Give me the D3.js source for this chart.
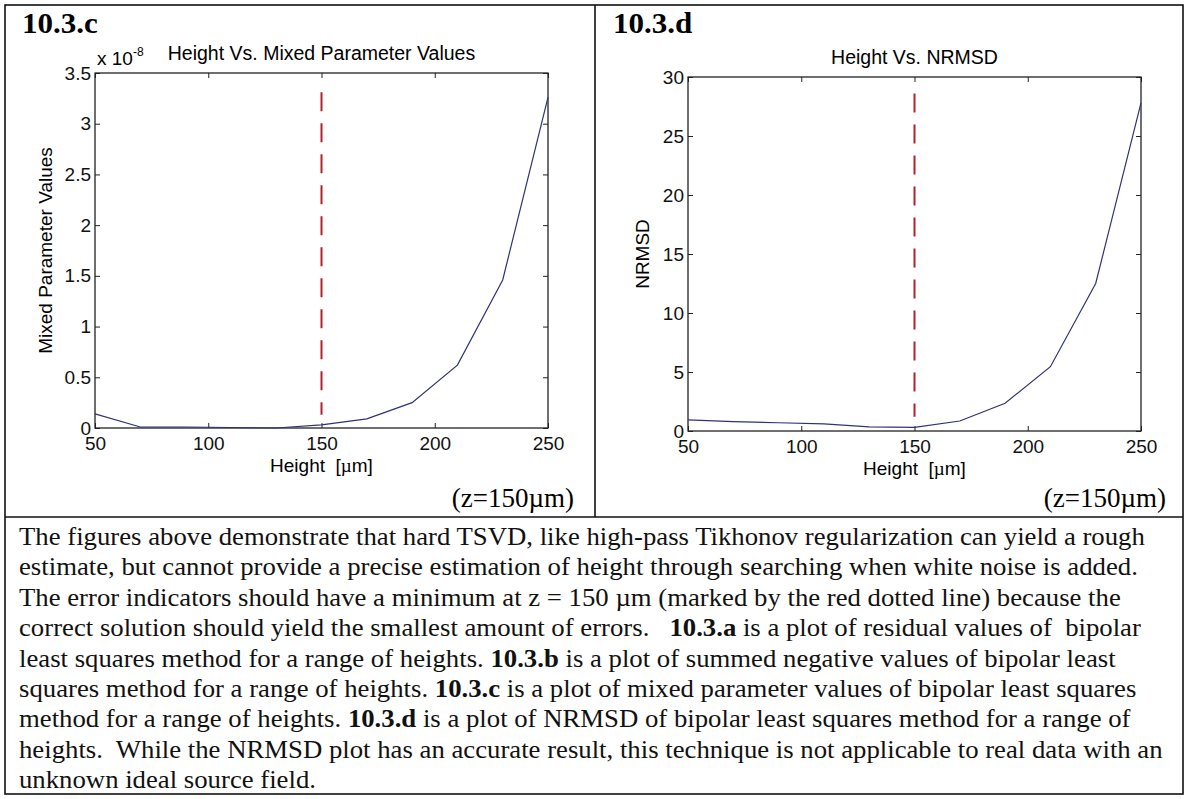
<!DOCTYPE html>
<html>
<head>
<meta charset="utf-8">
<script src="https://cdn.jsdelivr.net/npm/d3@7/dist/d3.min.js"></script>
<style>
  html, body { margin: 0; padding: 0; background: #fff; }
  svg { display: block; }
</style>
</head>
<body>
<svg id="fig" width="1186" height="799"></svg>
<script>
// ---------------- data ----------------
const heights = [50, 70, 90, 110, 130, 150, 170, 190, 210, 230, 250];
// Mixed parameter values (x 10^-8)
const mixedValues = [0.14, 0.01, 0.01, 0.005, 0.0, 0.03, 0.09, 0.25, 0.62, 1.46, 3.26];
// NRMSD values
const nrmsdValues = [0.95, 0.8, 0.7, 0.6, 0.35, 0.3, 0.85, 2.35, 5.45, 12.5, 27.8];
const xTicks = [50, 100, 150, 200, 250];
const mixedTicks = [0, 0.5, 1, 1.5, 2, 2.5, 3, 3.5];
const nrmsdTicks = [0, 5, 10, 15, 20, 25, 30];
const markerHeight = [150];
const mixedMarkerRange = [0.13, 3.31];
const nrmsdMarkerRange = [1.2, 28.6];

const paragraphLines = [
  [["The figures above demonstrate that hard TSVD, like high-pass Tikhonov regularization can yield a rough", false]],
  [["estimate, but cannot provide a precise estimation of height through searching when white noise is added.", false]],
  [["The error indicators should have a minimum at z = 150 \u00b5m (marked by the red dotted line) because the", false]],
  [["correct solution should yield the smallest amount of errors.\u00a0\u00a0 ", false], ["10.3.a", true], [" is a plot of residual values of\u00a0 bipolar", false]],
  [["least squares method for a range of heights. ", false], ["10.3.b", true], [" is a plot of summed negative values of bipolar least", false]],
  [["squares method for a range of heights. ", false], ["10.3.c", true], [" is a plot of mixed parameter values of bipolar least squares", false]],
  [["method for a range of heights. ", false], ["10.3.d", true], [" is a plot of NRMSD of bipolar least squares method for a range of", false]],
  [["heights.\u00a0 While the NRMSD plot has an accurate result, this technique is not applicable to real data with an", false]],
  [["unknown ideal source field.", false]]
];

// ---------------- drawing ----------------
const svg = d3.select("#fig");
const SANS = "'Liberation Sans', Arial, sans-serif";
const SERIF = "'Liberation Serif', 'Times New Roman', serif";
const LINE_COLOR = "#2f3375";
const RED = "#b5212b";
const SX = 1.07; // horizontal stretch of the scanned original

// table borders
const border = svg.append("g").attr("fill", "none").attr("stroke", "#111").attr("stroke-width", 1.6);
border.append("rect").attr("x", 5).attr("y", 5).attr("width", 1178).attr("height", 789);
border.append("line").attr("x1", 5).attr("x2", 1183).attr("y1", 517).attr("y2", 517);
border.append("line").attr("x1", 595).attr("x2", 595).attr("y1", 5).attr("y2", 517);

function panel(opts) {
  const g = svg.append("g");
  const x = d3.scaleLinear().domain([50, 250]).range([opts.left, opts.right]);
  const y = d3.scaleLinear().domain(opts.yDomain).range([opts.bottom, opts.top]);

  // panel tag
  g.append("text").attr("transform", `translate(${opts.tagX},33) scale(${SX},1)`)
    .attr("font-family", SERIF).attr("font-weight", "bold").attr("font-size", 29)
    .text(opts.tag);

  // title
  g.append("text").attr("x", (opts.left + opts.right) / 2).attr("y", opts.titleY)
    .attr("text-anchor", "middle").attr("font-family", SANS).attr("font-size", 19.5)
    .text(opts.title);

  const tickSize = -5;
  const fontSize = 19;
  const fmtY = d3.format("~g");

  const xb = g.append("g").attr("transform", `translate(0,${opts.bottom})`)
    .call(d3.axisBottom(x).tickValues(xTicks).tickSizeInner(tickSize).tickSizeOuter(0).tickPadding(9));
  const xt = g.append("g").attr("transform", `translate(0,${opts.top})`)
    .call(d3.axisTop(x).tickValues(xTicks).tickSizeInner(tickSize).tickSizeOuter(0).tickFormat(""));
  const yl = g.append("g").attr("transform", `translate(${opts.left},0)`)
    .call(d3.axisLeft(y).tickValues(opts.yTicks).tickSizeInner(tickSize).tickSizeOuter(0).tickPadding(4).tickFormat(fmtY));
  const yr = g.append("g").attr("transform", `translate(${opts.right},0)`)
    .call(d3.axisRight(y).tickValues(opts.yTicks).tickSizeInner(tickSize).tickSizeOuter(0).tickFormat(""));

  [xb, xt, yl, yr].forEach(a => {
    a.selectAll("path.domain").remove();
    a.selectAll(".tick line").attr("stroke", "#222").attr("stroke-width", 1);
    a.selectAll(".tick text").attr("font-family", SANS).attr("font-size", fontSize).attr("fill", "#111");
  });

  // box
  g.append("rect").attr("x", opts.left).attr("y", opts.top)
    .attr("width", opts.right - opts.left).attr("height", opts.bottom - opts.top)
    .attr("fill", "none").attr("stroke", "#222").attr("stroke-width", 1.3);

  // red dashed marker
  g.selectAll("line.marker").data(markerHeight).join("line").attr("class", "marker")
    .attr("x1", d => x(d)).attr("x2", d => x(d))
    .attr("y1", y(opts.markerRange[1])).attr("y2", y(opts.markerRange[0]))
    .attr("stroke", RED).attr("stroke-width", 2).attr("stroke-dasharray", "19,12");

  // data line
  const line = d3.line().x((d, i) => x(heights[i])).y(d => y(d));
  g.append("path").datum(opts.values).attr("d", line)
    .attr("fill", "none").attr("stroke", LINE_COLOR).attr("stroke-width", 1.2);

  // x label
  const xl = g.append("text").attr("x", (opts.left + opts.right) / 2).attr("y", opts.bottom + 44)
    .attr("text-anchor", "middle").attr("font-family", SANS).attr("font-size", 19);
  xl.append("tspan").text("Height\u00a0 [");
  xl.append("tspan").attr("font-family", SERIF).text("\u00b5");
  xl.append("tspan").text("m]");

  // y label
  g.append("text").attr("transform", `translate(${opts.yLabelX},${(opts.top + opts.bottom) / 2}) rotate(-90)`)
    .attr("text-anchor", "middle").attr("font-family", SANS).attr("font-size", 19)
    .text(opts.yLabel);

  // (z=150µm)
  g.append("text").attr("x", opts.zRight).attr("y", 507).attr("text-anchor", "end")
    .attr("font-family", SERIF).attr("font-size", 27).text("(z=150\u00b5m)");

  return { g, x, y };
}

const left = panel({
  tag: "10.3.c", tagX: 22,
  title: "Height Vs. Mixed Parameter Values", titleY: 60,
  left: 95, right: 548, top: 73, bottom: 428,
  yDomain: [0, 3.5], yTicks: mixedTicks, values: mixedValues,
  markerRange: mixedMarkerRange,
  yLabel: "Mixed Parameter Values", yLabelX: 52, zRight: 574
});
// exponent label
const ex = left.g.append("text").attr("x", 97).attr("y", 65)
  .attr("font-family", SANS).attr("font-size", 19);
ex.append("tspan").text("x 10");
ex.append("tspan").attr("font-size", 12).attr("dy", -9).text("-8");

panel({
  tag: "10.3.d", tagX: 613,
  title: "Height Vs. NRMSD", titleY: 64,
  left: 688, right: 1141, top: 77, bottom: 431,
  yDomain: [0, 30], yTicks: nrmsdTicks, values: nrmsdValues,
  markerRange: nrmsdMarkerRange,
  yLabel: "NRMSD", yLabelX: 649, zRight: 1166
});

// paragraph
const para = svg.append("g").attr("transform", `translate(19,0) scale(${SX},1)`)
  .attr("font-family", SERIF).attr("font-size", 25).attr("fill", "#111");
paragraphLines.forEach((segs, i) => {
  const t = para.append("text").attr("x", 0).attr("y", 545 + i * 30.4).attr("xml:space", "preserve");
  segs.forEach(([s, b]) => {
    const ts = t.append("tspan").text(s);
    if (b) ts.attr("font-weight", "bold");
  });
});
</script>
</body>
</html>
